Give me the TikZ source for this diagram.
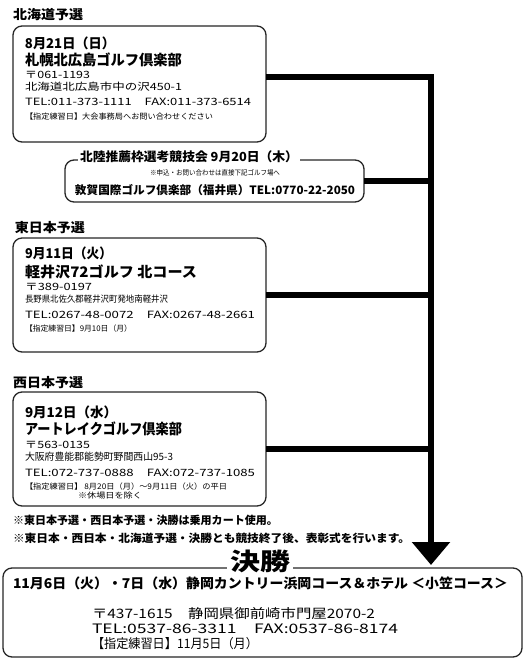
\documentclass[tikz,border=0pt]{standalone}
\usepackage{fontspec}
\usepackage{graphicx}
\setmainfont{Noto Sans CJK JP}
\usetikzlibrary{arrows.meta}
\newcommand\fsz[1]{\fontsize{#1}{#1}\selectfont}
\newcommand\fw[2]{\resizebox{#1pt}{\height}{#2}}
\begin{document}
\begin{tikzpicture}[x=1pt,y=-1pt,
  every node/.style={inner sep=0pt,outer sep=0pt},
  panel/.style={draw=black!85,line width=1.3pt,rounded corners=9pt,fill=white},
  conn/.style={line width=6pt,black},
  sect/.style={anchor=west,font=\fsz{13}\bfseries},
  datel/.style={anchor=west,font=\fsz{13.5}\bfseries},
  namel/.style={anchor=west,font=\fsz{14.5}\bfseries},
  infol/.style={anchor=west,font=\fsz{10}},
  smalll/.style={anchor=west,font=\fsz{7.8}},
  notel/.style={anchor=west,font=\fsz{11}\bfseries},
  ttl/.style={fill=white,inner xsep=2pt,inner ysep=1pt}]
\useasboundingbox (0,0) rectangle (525,661);

% panels
\node[panel,minimum width=253pt,minimum height=116pt] (hok) at (139.5,84) {};
\node[panel,minimum width=299pt,minimum height=42pt] (hoku) at (214.5,181) {};
\node[panel,minimum width=253pt,minimum height=114pt] (east) at (139.5,295) {};
\node[panel,minimum width=253pt,minimum height=114pt] (west) at (139.5,449) {};
\node[panel,minimum width=519pt,minimum height=89pt] (final) at (262.5,612.5) {};

% connectors
\coordinate (tip) at (431,565);
\draw[conn,-{Triangle[width=37pt,length=23pt]}] ([yshift=7pt]hok.east) -| (tip);
\draw[conn] (hoku.east) -- (hoku.east -| tip);
\draw[conn] (east.east) -- (east.east -| tip);
\draw[conn] (west.east) -- (west.east -| tip);

% Hokkaido
\node[sect] (t1) at (13,15) {\fw{70}{北海道予選}};
\node[datel] (h1) at (25,43) {\fw{90}{8月21日（日）}};
\node[namel] (h2) at (25,60) {\fw{157}{札幌北広島ゴルフ倶楽部}};
\node[infol] (h3) at (25,75) {\fw{65}{〒061-1193}};
\node[infol] (h4) at (25,87) {\fw{157}{北海道北広島市中の沢450-1}};
\node[infol] (h5) at (25,102) {\fw{226}{TEL:011-373-1111\quad FAX:011-373-6514}};
\node[smalll] (h6) at (25,117) {\fw{188}{【指定練習日】大会事務局へお問い合わせください}};

% Hokuriku
\node[ttl,anchor=west,font=\fsz{12.5}\bfseries] (k1) at (78,157) {\fw{218}{北陸推薦枠選考競技会 9月20日（木）}};
\node[font=\fsz{7}] (k2) at (215,173) {\fw{130}{※申込・お問い合わせは直接下記ゴルフ場へ}};
\node[font=\fsz{11.5}\bfseries] (k3) at (215,190) {\fw{280}{敦賀国際ゴルフ倶楽部（福井県）TEL:0770-22-2050}};

% East
\node[sect] (t2) at (15,228) {\fw{70}{東日本予選}};
\node[datel] (e1) at (25,253) {\fw{87}{9月11日（火）}};
\node[namel] (e2) at (25,272) {\fw{172}{軽井沢72ゴルフ 北コース}};
\node[infol] (e3) at (25,287) {\fw{67}{〒389-0197}};
\node[infol,font=\fsz{9}] (e4) at (25,299) {\fw{143}{長野県北佐久郡軽井沢町発地南軽井沢}};
\node[infol] (e5) at (25,315) {\fw{230}{TEL:0267-48-0072\quad FAX:0267-48-2661}};
\node[smalll] (e6) at (25,329) {\fw{107}{【指定練習日】9月10日（月）}};

% West
\node[sect] (t3) at (13,383) {\fw{70}{西日本予選}};
\node[datel] (w1) at (25,412) {\fw{92}{9月12日（水）}};
\node[namel] (w2) at (25,429) {\fw{157}{アートレイクゴルフ倶楽部}};
\node[infol] (w3) at (25,445) {\fw{65}{〒563-0135}};
\node[infol] (w4) at (25,457) {\fw{148}{大阪府豊能郡能勢町野間西山95-3}};
\node[infol] (w5) at (25,473) {\fw{230}{TEL:072-737-0888\quad FAX:072-737-1085}};
\node[smalll] (w6) at (25,487) {\fw{202}{【指定練習日】 8月20日（月）〜9月11日（火）の平日}};
\node[smalll] (w7) at (78,496) {\fw{64}{※休場日を除く}};

% notes
\node[notel] (n1) at (13,520) {\fw{265}{※東日本予選・西日本予選・決勝は乗用カート使用。}};
\node[notel] (n2) at (13,538) {\fw{397}{※東日本・西日本・北海道予選・決勝とも競技終了後、表彰式を行います。}};

% Final
\node[ttl,font=\fsz{24}\bfseries,inner xsep=3pt] (f0) at (260,561) {\fw{60}{決勝}};
\node[anchor=west,font=\fsz{13.5}\bfseries] (f1) at (13,583) {\fw{495}{11月6日（火）・7日（水）静岡カントリー浜岡コース＆ホテル ＜小笠コース＞}};
\node[anchor=west,font=\fsz{13}] (f2) at (92,614) {\fw{283}{〒437-1615　静岡県御前崎市門屋2070-2}};
\node[anchor=west,font=\fsz{13}] (f3) at (92,629) {\fw{306}{TEL:0537-86-3311　FAX:0537-86-8174}};
\node[anchor=west,font=\fsz{13}] (f4) at (92,644) {\fw{166}{【指定練習日】11月5日（月）}};
\end{tikzpicture}
\end{document}
